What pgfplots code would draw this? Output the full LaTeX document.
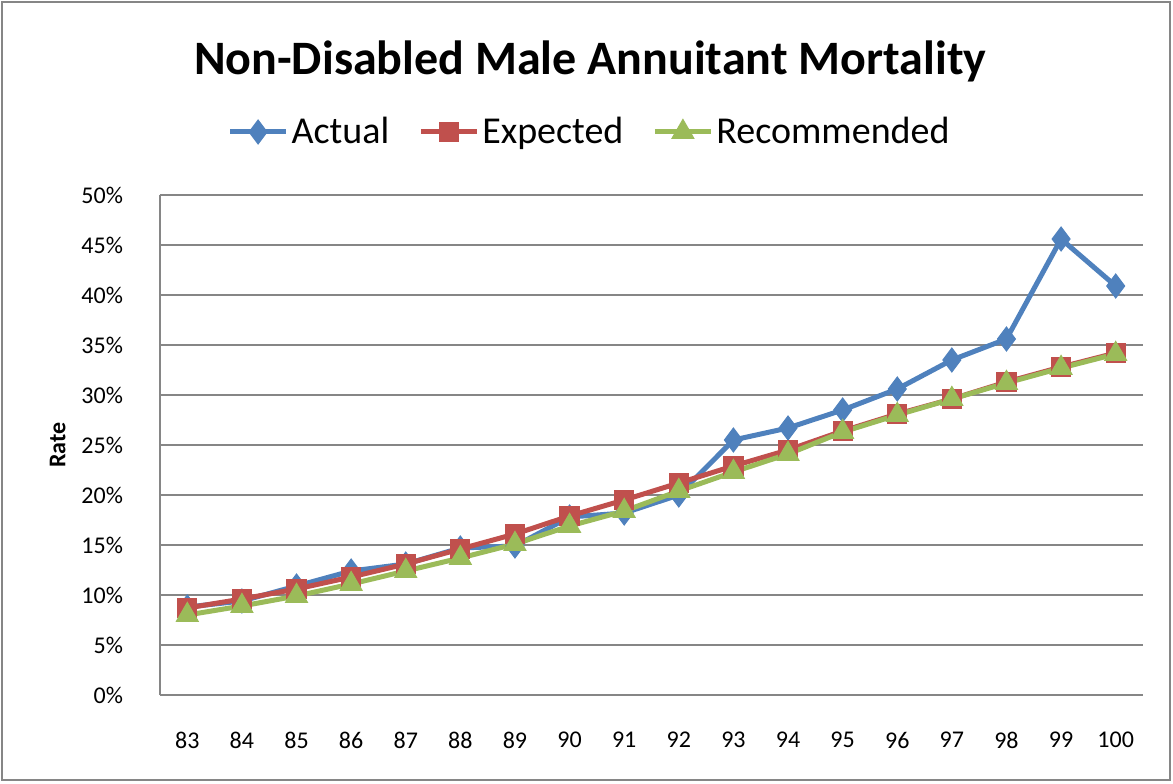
\documentclass[border=0pt]{standalone}
\usepackage{pgfplots}
\pgfplotsset{compat=1.18}
\usepackage{fontspec}
\setmainfont{Carlito}
\definecolor{cA}{HTML}{4F81BD}
\definecolor{cE}{HTML}{C0504D}
\definecolor{cR}{HTML}{9BBB59}
\definecolor{gridc}{HTML}{868686}
\begin{document}
\begin{tikzpicture}
\useasboundingbox (-80pt,-44pt) rectangle (506.5pt,347.5pt);
\draw[gridc, line width=0.6pt] (-79pt,-42.5pt) rectangle (505pt,346.5pt);
\begin{axis}[
  at={(0,0)}, anchor=origin,
  scale only axis, width=491.5pt, height=250pt,
  xmin=82.5, xmax=100.5, ymin=0, ymax=0.5,
  xtick={83,...,100},
  ytick={0,0.05,...,0.5},
  yticklabels={0\%,5\%,10\%,15\%,20\%,25\%,30\%,35\%,40\%,45\%,50\%},
  /pgf/number format/assume math mode=true,
  tick style={draw=none},
  ymajorgrids, grid style={gridc, line width=0.75pt},
  axis line style={gridc, line width=0.75pt},
  axis x line*=bottom, axis y line*=left,
  x axis line style={-}, y axis line style={-},
  ticklabel style={font=\fontsize{12}{14}\selectfont},
  xticklabel style={yshift=-15pt},
  yticklabel style={xshift=-15pt},
  ylabel={\bfseries Rate}, ylabel style={font=\fontsize{12}{14}\selectfont, at={(axis description cs:-0.104,0.5)}, anchor=center},
  title={\bfseries Non-Disabled Male Annuitant Mortality},
  title style={font=\fontsize{24}{28}\selectfont, at={(axis description cs:0.4375,1.244)}, anchor=center},
  legend columns=3,
  legend style={draw=none, fill=none, at={(axis description cs:0.4375,1.126)}, anchor=center, font=\fontsize{19}{22}\selectfont,
    nodes={inner xsep=1.5pt},
    /tikz/every odd column/.append style={column sep=0pt},
    /tikz/every even column/.append style={column sep=13pt}},
  legend image code/.code={\draw[#1, mark repeat=2, mark phase=2] plot coordinates {(0pt,0pt) (14pt,0pt) (28pt,0pt)};},
  every axis plot/.append style={line width=2.5pt, mark options={solid}},
]
\addplot[cA, mark=diamond*, mark size=6pt, mark options={line width=0.5pt}] coordinates {
(83,0.088)(84,0.094)(85,0.109)(86,0.124)(87,0.131)(88,0.147)(89,0.149)(90,0.178)(91,0.182)(92,0.200)(93,0.255)(94,0.267)(95,0.285)(96,0.306)(97,0.335)(98,0.356)(99,0.456)(100,0.409)};
\addlegendentry{Actual}
\addplot[cE, mark=square*, mark size=4.8pt, mark options={line width=0.5pt}] coordinates {
(83,0.087)(84,0.096)(85,0.106)(86,0.118)(87,0.131)(88,0.146)(89,0.161)(90,0.179)(91,0.195)(92,0.212)(93,0.229)(94,0.245)(95,0.264)(96,0.281)(97,0.296)(98,0.313)(99,0.328)(100,0.342)};
\addlegendentry{Expected}
\addplot[cR, mark=triangle*, mark size=6.3pt, mark options={line width=0.5pt}] coordinates {
(83,0.080)(84,0.089)(85,0.099)(86,0.111)(87,0.124)(88,0.137)(89,0.151)(90,0.169)(91,0.184)(92,0.204)(93,0.223)(94,0.241)(95,0.263)(96,0.280)(97,0.296)(98,0.312)(99,0.327)(100,0.341)};
\addlegendentry{Recommended}
\end{axis}
\end{tikzpicture}
\end{document}
